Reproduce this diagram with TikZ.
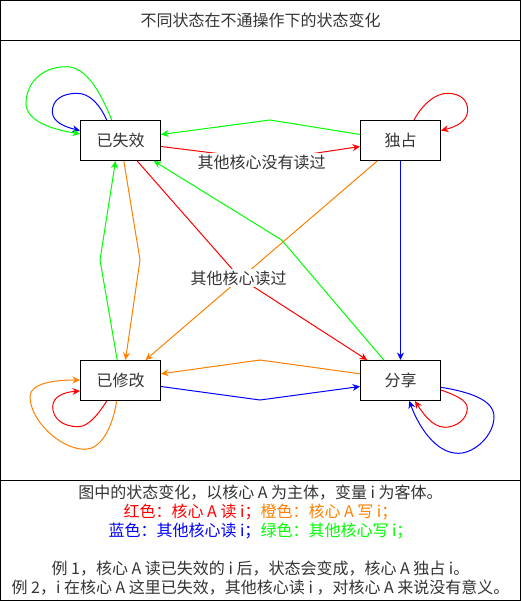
\documentclass[tikz,border=0pt]{standalone}
\usepackage{fontspec}
\setmainfont{Noto Sans CJK SC}
\usetikzlibrary{arrows.meta,calc}
\definecolor{cred}{HTML}{FF0000}
\definecolor{corange}{HTML}{FF8000}
\definecolor{cblue}{HTML}{0000FF}
\definecolor{cgreen}{HTML}{00FF00}
\definecolor{ctext}{HTML}{333333}
\tikzset{
  statebox/.style={draw=black, line width=1pt, fill=white, minimum width=80pt, minimum height=40pt, inner sep=0pt, font=\fontsize{16}{19}\selectfont, text=ctext},
  conn/.style={line width=1pt, -{Stealth[length=7.5pt,width=7pt,inset=2.5pt]}},
  elabel/.style={fill=white, inner xsep=0pt, inner ysep=2pt, font=\fontsize{16}{19}\selectfont, text=ctext},
  frame/.style={draw=black, line width=1pt}
}
\begin{document}
\begin{tikzpicture}[x=1pt,y=-1pt]
\useasboundingbox (0,0) rectangle (521,601);
% frame
\draw[frame] (0.5,0.5) rectangle (520.5,600.5);
\draw[frame] (0.5,40.5) -- (520.5,40.5);
\draw[frame] (0.5,480.5) -- (520.5,480.5);
\node[font=\fontsize{16}{19}\selectfont, text=ctext] (title) at (260.5,20.5) {不同状态在不通操作下的状态变化};

% states
\node[statebox] (inv) at (120.5,140.5) {已失效};
\node[statebox] (exc) at (400.5,140.5) {独占};
\node[statebox] (mod) at (120.5,380.5) {已修改};
\node[statebox] (shr) at (400.5,380.5) {分享};

% way points
\coordinate (wgt) at (270,120);
\coordinate (wrt) at (270,160);
\coordinate (wrx) at (240,278);
\coordinate (wgx) at (281.7,240);
\coordinate (wgl) at (100,260);
\coordinate (wol) at (140,260);
\coordinate (wob) at (260,360);
\coordinate (wbb) at (260,400);

% straight / polyline connectors
\draw[conn, cgreen] ($(exc.west)+(0,-6)$) -- (wgt) -- ($(inv.east)+(0,-6)$);
\draw[conn, cred] ($(inv.east)+(0,6)$) -- (wrt) -- ($(exc.west)+(0,6)$);
\draw[conn, cblue] (exc.south) -- (shr.north);
\draw[conn, corange] ($(exc.south)+(-23.3,0)$) -- ($(mod.north)+(25,0)$);
\draw[conn, cred] ($(inv.south)+(16.7,0)$) -- (wrx) -- ($(shr.north)+(-33.3,0)$);
\draw[conn, cgreen] ($(shr.north)+(-16.7,0)$) -- (wgx) -- ($(inv.south)+(33.3,0)$);
\draw[conn, cgreen] ($(mod.north)+(-3.3,0)$) -- (wgl) -- ($(inv.south)+(-5,0)$);
\draw[conn, corange] ($(inv.south)+(3.3,0)$) -- (wol) -- ($(mod.north)+(5,0)$);
\draw[conn, corange] ($(shr.west)+(0,-6.7)$) -- (wob) -- ($(mod.east)+(0,-6.7)$);
\draw[conn, cblue] ($(mod.east)+(0,6)$) -- (wbb) -- ($(shr.west)+(0,6)$);

% self loops
\draw[conn, cblue] ($(inv.north)+(-13.8,0)$) .. controls (100,105) and (90,93.3) .. (77,93.3)
  .. controls (62,93.3) and (52.3,100) .. (52.3,111.7)
  .. controls (52.3,122) and (65,127) .. ($(inv.west)+(0,-10)$);
\draw[conn, cgreen] ($(inv.north)+(-8.8,0)$) .. controls (100,90) and (85,66.7) .. (66.7,66.7)
  .. controls (40,66.7) and (26,85) .. (26,103.3)
  .. controls (26,122) and (55,130) .. ($(inv.west)+(0,-6.7)$);
\draw[conn, cred] ($(exc.north)+(13.5,0)$) .. controls (422,105) and (435,93.3) .. (447.3,93.3)
  .. controls (460,93.3) and (467.7,100) .. (467.7,110)
  .. controls (467.7,122) and (455,127) .. ($(exc.east)+(0,-10)$);
\draw[conn, cred] ($(mod.south)+(-13.8,0)$) .. controls (98,415) and (88,426.7) .. (78.3,426.7)
  .. controls (62,426.7) and (52.7,418) .. (52.7,406.7)
  .. controls (52.7,396) and (65,392) .. ($(mod.west)+(0,10.5)$);
\draw[conn, corange] ($(mod.south)+(-3.8,0)$) .. controls (112,430) and (100,449.3) .. (85,449.3)
  .. controls (60,449.3) and (30,420) .. (30,396.7)
  .. controls (30,383) and (55,380) .. ($(mod.west)+(0,-0.5)$);
\draw[conn, cred] ($(shr.east)+(0,9.5)$) .. controls (455,395) and (467.3,400) .. (467.3,408.3)
  .. controls (467.3,420) and (455,427.3) .. (445,427.3)
  .. controls (432,427.3) and (422,412) .. ($(shr.south)+(14.5,0)$);
\draw[conn, cblue] ($(shr.east)+(0,6.8)$) .. controls (470,392) and (494,400) .. (494,416.7)
  .. controls (494,435) and (475,453.3) .. (458.3,453.3)
  .. controls (435,453.3) and (418,425) .. ($(shr.south)+(8.8,0)$);

% edge labels
\node[elabel] (l1) at (261.5,162) {其他核心没有读过};
\node[elabel] (l2) at (238.5,278) {其他核心读过};

% notes
\node[align=center, font=\fontsize{16}{19}\selectfont, text=ctext, inner sep=0pt] (notes) at (260.5,540.5) {%
图中的状态变化，以核心 A 为主体，变量 i 为客体。\\
\textcolor{cred}{红色：核心 A 读 i；}\textcolor{corange}{橙色：核心 A 写 i；}\\
\textcolor{cblue}{蓝色：其他核心读 i；}\textcolor{cgreen}{绿色：其他核心写 i；}\\
~\\
例 1，核心 A 读已失效的 i 后，状态会变成，核心 A 独占 i。\\
例 2，i 在核心 A 这里已失效，其他核心读 i ，对核心 A 来说没有意义。};
\end{tikzpicture}
\end{document}
